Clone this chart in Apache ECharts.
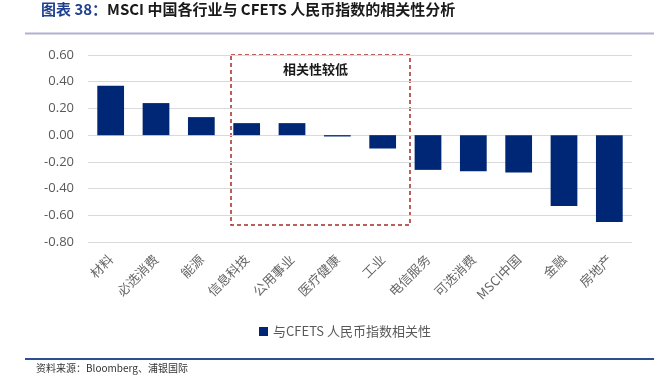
<!DOCTYPE html>
<html><head><meta charset="utf-8">
<script src="https://cdn.jsdelivr.net/npm/echarts@6/dist/echarts.min.js"></script>
<style>html,body{margin:0;padding:0;background:#fff;}#c{width:669px;height:379px;}</style>
</head><body><div id="c"></div>
<script>
const categories = ['材料','必选消费','能源','信息科技','公用事业','医疗健康','工业','电信服务','可选消费','MSCI中国','金融','房地产'];
const values = [0.37, 0.24, 0.135, 0.09, 0.09, -0.01, -0.10, -0.26, -0.27, -0.28, -0.53, -0.65];
const seriesName = '与CFETS 人民币指数相关性';
const yTicks = {min: -0.8, max: 0.6, interval: 0.2};

const chart = echarts.init(document.getElementById('c'));
const cjk = '"Noto Sans CJK SC", "Noto Sans", sans-serif';
chart.setOption({
  animation: false,
  textStyle: {fontFamily: cjk},
  title: {
    text: '{a|图表 38：}{b|MSCI 中国各行业与 CFETS 人民币指数的相关性分析}',
    left: 36, top: -3,
    textStyle: {
      rich: {
        a: {fontSize: 15, fontWeight: 'bold', color: '#1f3f8f', fontFamily: cjk},
        b: {fontSize: 15, fontWeight: 'bold', color: '#1a1a1a', fontFamily: cjk}
      }
    }
  },
  grid: {left: 88, right: 37, top: 55, bottom: 137},
  legend: {
    data: [seriesName], left: 254, top: 320,
    icon: 'rect', itemWidth: 9, itemHeight: 9, itemGap: 4,
    textStyle: {fontSize: 13, color: '#595959', fontFamily: cjk}
  },
  xAxis: {
    type: 'category', data: categories,
    axisLine: {show: false, onZero: false}, axisTick: {show: false},
    axisLabel: {rotate: 45, fontSize: 13, color: '#666', margin: 15, interval: 0, fontFamily: cjk}
  },
  yAxis: {
    type: 'value', min: yTicks.min, max: yTicks.max, interval: yTicks.interval,
    axisLine: {show: false}, axisTick: {show: false},
    axisLabel: {fontSize: 13, color: '#595959', margin: 14, formatter: v => v.toFixed(2), fontFamily: '"Open Sans", sans-serif'},
    splitLine: {lineStyle: {color: '#d9d9d9', width: 1}}
  },
  series: [{
    name: seriesName, type: 'bar', data: values, barWidth: '59%',
    itemStyle: {color: '#002776'}
  }],
  graphic: [
    {type: 'line', shape: {x1: 25, y1: 33.5, x2: 654, y2: 33.5}, style: {stroke: '#b0b0d2', lineWidth: 2}},
    {type: 'line', shape: {x1: 25, y1: 359, x2: 654, y2: 359}, style: {stroke: '#2b4f8f', lineWidth: 2}},
    {type: 'text', left: 36, top: 363, style: {text: '资料来源：Bloomberg、浦银国际', fontSize: 10, fill: '#333', fontFamily: cjk}},
    {type: 'rect', shape: {x: 231, y: 55, width: 179, height: 170}, style: {fill: 'none', stroke: '#a52a2a', lineWidth: 1.5, lineDash: [4, 3]}},
    {type: 'text', left: 283, top: 63, style: {text: '相关性较低', fontSize: 13, fontWeight: 'bold', fill: '#1a1a1a', fontFamily: cjk}}
  ]
});
</script>
</body></html>
